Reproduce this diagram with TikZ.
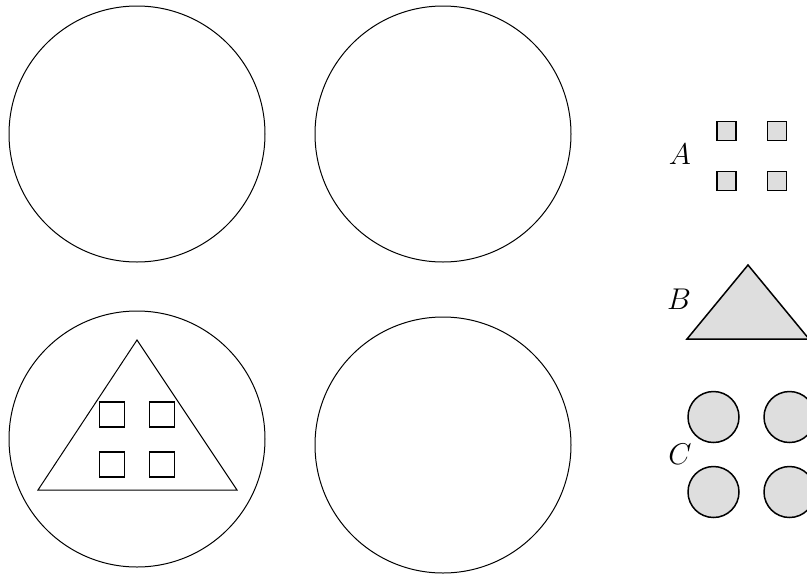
\documentclass[tikz,border=0pt]{standalone}
\usepackage{amsmath,amssymb}
\usepackage{tikz}
\usetikzlibrary{calc}
\tikzset{
  disc/.style  = {draw},
  piece/.style = {draw, semithick, fill=black!13},
  hole/.style  = {draw, semithick, fill=white, inner sep=0pt, minimum size=10pt},
  tile/.style  = {draw, semithick, fill=black!13, inner sep=0pt, minimum size=7.6pt},
  lbl/.style   = {font=\large},
}

\begin{document}
\begin{tikzpicture}[x=0.4pt,y=0.4pt]
  \useasboundingbox (0,0) rectangle (807,576);
  \clip (0,0) rectangle (807,576);
  % the four plates
  \draw[disc] (137,442) circle (128);
  \draw[disc] (443,442) circle (128);
  \draw[disc] (137,137) circle (128);
  \draw[disc] (443,131) circle (128);
  % assembled piece on the lower left plate
  \draw (38,86) -- (237,86) -- (137,236) -- cycle;
  \node[hole] (h1) at (112,161.5) {};
  \node[hole] (h2) at (162,161.5) {};
  \node[hole] (h3) at (112,111.5) {};
  \node[hole] (h4) at (162,111.5) {};
  % parts A
  \node[lbl] (A) at (680,422) {$A$};
  \node[tile] (a1) at (726.5,445) {};
  \node[tile] (a2) at (777,445) {};
  \node[tile] (a3) at (726.5,395) {};
  \node[tile] (a4) at (777,395) {};
  % part B
  \node[lbl] (B) at (679,277) {$B$};
  \draw[piece] (687,237) -- (809,237) -- (748,311) -- cycle;
  % parts C
  \node[lbl] (C) at (680,122) {$C$};
  \draw[piece] (713.5,159) circle (25.5);
  \draw[piece] (789.5,159) circle (25.5);
  \draw[piece] (713.5,84) circle (25.5);
  \draw[piece] (789.5,84) circle (25.5);
\end{tikzpicture}
\end{document}
